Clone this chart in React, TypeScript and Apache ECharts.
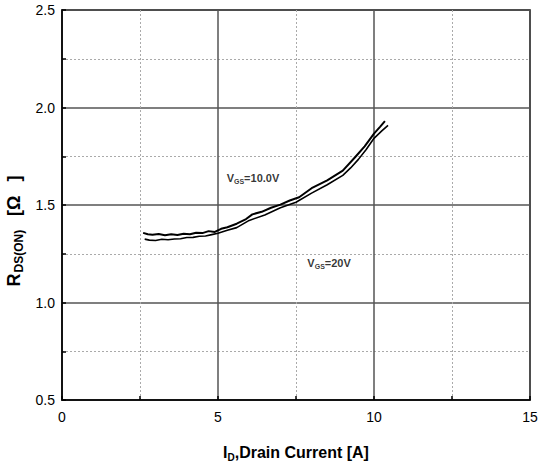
import React, { useEffect, useRef } from "react";
import * as echarts from "echarts";

const xTicks = [0, 5, 10, 15];
const yTicks = [0.5, 1.0, 1.5, 2.0, 2.5];

// VGS = 10.0V (upper curve)
const vgs10X = [2.6, 2.75, 2.9, 3.1, 3.3, 3.5, 3.7, 3.9, 4.1, 4.3, 4.5, 4.7, 4.9, 5.1, 5.3, 5.6, 5.9, 6.1, 6.4, 6.7, 7.0, 7.3, 7.6, 8.0, 8.5, 9.0, 9.4, 9.7, 10.0, 10.2, 10.35];
const vgs10Y = [1.357, 1.350, 1.347, 1.351, 1.345, 1.350, 1.346, 1.353, 1.350, 1.358, 1.356, 1.366, 1.362, 1.378, 1.386, 1.404, 1.428, 1.452, 1.465, 1.486, 1.502, 1.523, 1.540, 1.586, 1.626, 1.676, 1.746, 1.801, 1.866, 1.902, 1.93];

// VGS = 20V (lower curve)
const vgs20X = [2.65, 2.8, 3.0, 3.2, 3.4, 3.6, 3.8, 4.0, 4.2, 4.4, 4.6, 4.8, 5.0, 5.3, 5.6, 6.0, 6.5, 7.0, 7.5, 8.0, 8.5, 9.0, 9.25, 9.5, 9.75, 10.0, 10.25, 10.45];
const vgs20Y = [1.325, 1.320, 1.318, 1.324, 1.322, 1.326, 1.327, 1.333, 1.334, 1.340, 1.341, 1.348, 1.355, 1.370, 1.384, 1.421, 1.449, 1.486, 1.514, 1.561, 1.604, 1.652, 1.690, 1.734, 1.785, 1.842, 1.880, 1.908];

const labelX = [6.12, 8.56];
const labelY = [1.64, 1.203];
const labelTail = ["=10.0V", "=20V"];

const FONT = "'Liberation Sans Narrow', 'Arial Narrow', 'Liberation Sans', Arial, sans-serif";
const WIDE = "'Liberation Sans', Arial, sans-serif";

export default function App() {
  const ref = useRef<HTMLDivElement>(null);
  useEffect(() => {
    const chart = echarts.init(ref.current!, null, { renderer: "svg" });
    const richLabel = {
      v: { fontSize: 11, fontWeight: "bold", color: "#000", fontFamily: WIDE },
      s: { fontSize: 7, fontWeight: "bold", color: "#000", fontFamily: WIDE, padding: [8, 0, 0, 0] },
    };
    chart.setOption({
      animation: false,
      backgroundColor: "#fff",
      grid: {
        left: 62, right: 15, top: 10, bottom: 67,
        outerBoundsMode: "none",
        containLabel: false,
        show: true, borderColor: "#000", borderWidth: 1.5, backgroundColor: "transparent",
      },
      xAxis: {
        type: "value",
        min: xTicks[0],
        max: xTicks[xTicks.length - 1],
        interval: 5,
        axisLine: { show: true, lineStyle: { color: "#000", width: 1.5 } },
        axisTick: { show: true, inside: true, length: 4, lineStyle: { color: "#000", width: 1.5 } },
        minorTick: { show: true, splitNumber: 2, length: 4, lineStyle: { color: "#000", width: 1.5 } },
        splitLine: { show: true, lineStyle: { color: "#555", width: 1.5 } },
        minorSplitLine: { show: true, lineStyle: { color: "#aaa", width: 1, type: [2, 2] } },
        axisLabel: { color: "#000", fontSize: 14, fontFamily: FONT, margin: 10 },
        name: "{m|I}{s|D}{m|,Drain Current [A]}",
        nameLocation: "middle",
        nameGap: 42,
        nameTextStyle: {
          rich: {
            m: { fontSize: 16, fontWeight: "bold", color: "#000", fontFamily: FONT },
            s: { fontSize: 10, fontWeight: "bold", color: "#000", fontFamily: FONT, padding: [10, 0, 0, 0] },
          },
        },
      },
      yAxis: {
        type: "value",
        min: yTicks[0],
        max: yTicks[yTicks.length - 1],
        interval: 0.5,
        axisLine: { show: true, lineStyle: { color: "#000", width: 1.5 } },
        axisTick: { show: true, inside: true, length: 4, lineStyle: { color: "#000", width: 1.5 } },
        minorTick: { show: true, splitNumber: 2, length: 4, lineStyle: { color: "#000", width: 1.5 } },
        splitLine: { show: true, lineStyle: { color: "#555", width: 1.5 } },
        minorSplitLine: { show: true, lineStyle: { color: "#aaa", width: 1, type: [2, 2] } },
        axisLabel: { color: "#000", fontSize: 14, fontFamily: FONT, margin: 7, formatter: (v: number) => v.toFixed(1) },
        name: "{m|R}{g1| }{s|DS(ON)}{g2| }{m|[Ω}{g2| }{m|]}",
        nameLocation: "middle",
        nameGap: 27,
        nameRotate: 90,
        nameTextStyle: {
          padding: [0, 52, 0, 0],
          rich: {
            m: { fontSize: 18, fontWeight: "bold", color: "#000", fontFamily: WIDE },
            s: { fontSize: 12, fontWeight: "bold", color: "#000", fontFamily: WIDE, padding: [10, 0, 0, 0] },
            g1: { width: 1, fontSize: 12 },
            g2: { width: 14, fontSize: 12 },
          },
        },
      },
      series: [
        {
          type: "line",
          name: "VGS=10.0V",
          data: vgs10X.map((x, i) => [x, vgs10Y[i]]),
          showSymbol: false,
          symbol: "none",
          lineStyle: { color: "#000", width: 2 },
        },
        {
          type: "line",
          name: "VGS=20V",
          data: vgs20X.map((x, i) => [x, vgs20Y[i]]),
          showSymbol: false,
          symbol: "none",
          lineStyle: { color: "#000", width: 1.6 },
        },
        {
          type: "scatter",
          name: "labels",
          symbol: "circle",
          symbolSize: 0,
          itemStyle: { color: "#000" },
          silent: true,
          data: labelX.map((x, i) => ({
            value: [x, labelY[i]],
            label: {
              show: true,
              position: "inside",
              color: "#000",
              formatter: `{v|V}{s|GS}{v|${labelTail[i]}}`,
              rich: richLabel,
            },
          })),
        },
      ],
    });
    return () => chart.dispose();
  }, []);
  return <div ref={ref} style={{ width: 545, height: 467, position: "absolute", left: 0, top: 0 }} />;
}
